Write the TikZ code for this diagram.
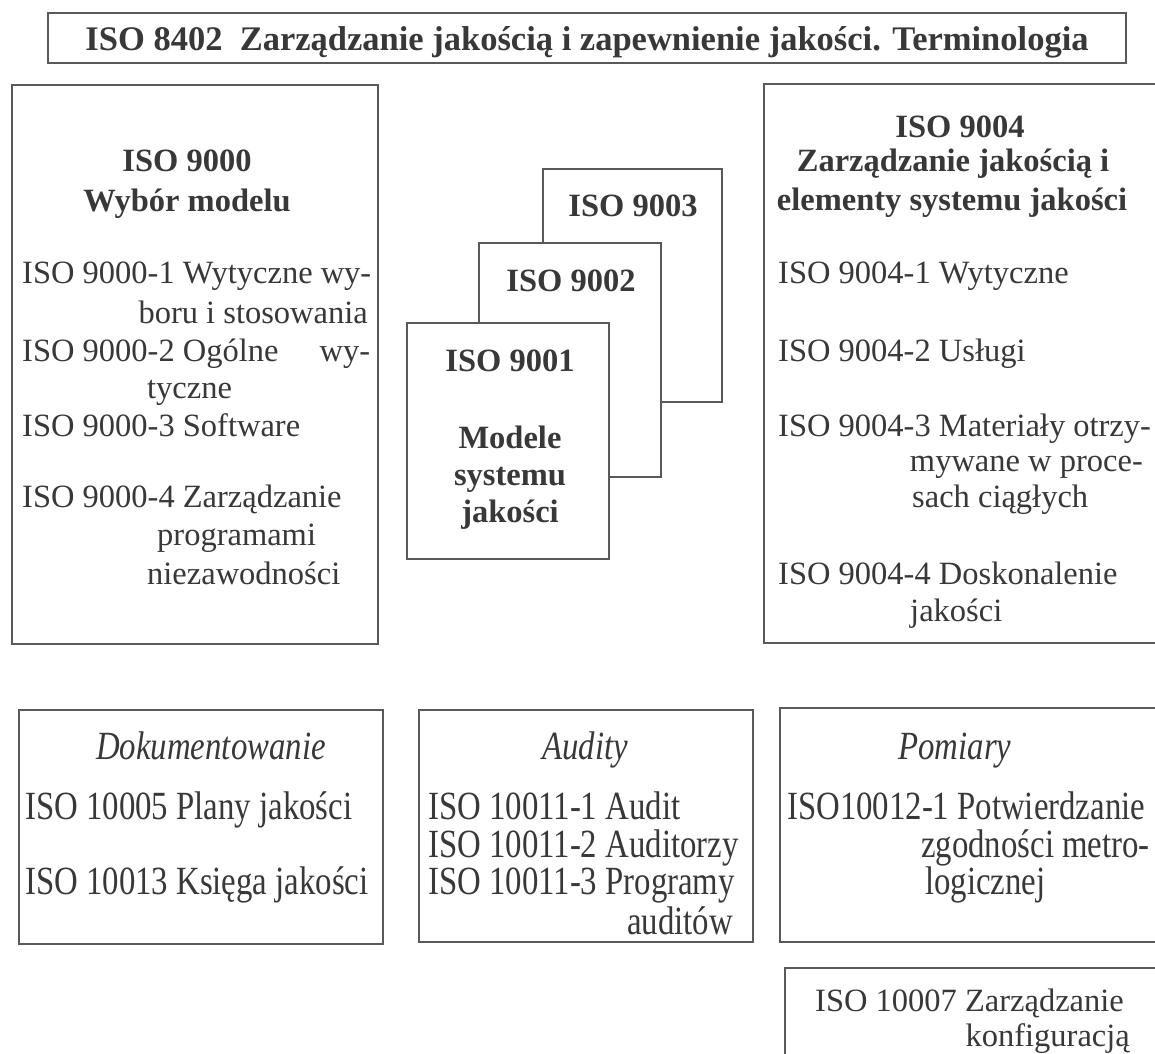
\documentclass[tikz,border=0pt]{standalone}
\usepackage{fontspec}
\setmainfont{Liberation Serif}
\newfontfamily\narrowserif[FakeStretch=0.82]{Liberation Serif}
\usetikzlibrary{fit}

\definecolor{inkgray}{gray}{0.22}
\definecolor{linegray}{gray}{0.35}

\newcommand\bodysize{\fontsize{32.5}{39}\selectfont}
\newcommand\titlesize{\fontsize{34.5}{41}\selectfont}
\newcommand\narrowsize{\fontsize{40}{48}\selectfont\narrowserif}

\tikzset{
  panel/.style={draw=linegray, line width=1.5pt, inner sep=0pt, fill=white},
  txt/.style={inner sep=0pt, text=inkgray, font=\bodysize},
  hd/.style={txt, font=\bodysize\bfseries},
  ntxt/.style={inner sep=0pt, text=inkgray, font=\narrowsize},
  nhd/.style={ntxt, font=\narrowsize\itshape},
}

\begin{document}
\begin{tikzpicture}[x=1pt, y=-1pt]
\useasboundingbox (0,0) rectangle (1155,1053);
\clip (0,0) rectangle (1155,1053);

% title
\node[panel, fit={(48,13) (1126,63)}] (title) {};
\node[txt, font=\titlesize\bfseries, anchor=base] (titletxt) at (587,50)
  {ISO 8402\ \ Zarządzanie jakością i zapewnienie jakości. Terminologia};

% ISO 9000 column
\node[panel, fit={(12,85) (378,644)}] (p9000) {};
\node[hd, anchor=base] (h9000a) at (187,171) {ISO 9000};
\node[hd, anchor=base] (h9000b) at (187,211) {Wybór modelu};
\node[txt, anchor=base west] (l9000a) at (22,283) {ISO 9000-1 Wytyczne wy-};
\node[txt, anchor=base east] (l9000b) at (368,323) {boru i stosowania};
\node[txt, anchor=base west] (l9000c) at (22,361) {\hbox to 348pt{ISO 9000-2 Ogólne\hfill wy-}};
\node[txt, anchor=base west] (l9000d) at (147,398) {tyczne};
\node[txt, anchor=base west] (l9000e) at (22,436) {ISO 9000-3 Software};
\node[txt, anchor=base west] (l9000f) at (22,507) {ISO 9000-4 Zarządzanie};
\node[txt, anchor=base west] (l9000g) at (157,545) {programami};
\node[txt, anchor=base west] (l9000h) at (147,584) {niezawodności};

% stacked models 9003 / 9002 / 9001
\node[panel, fit={(543,169) (722,402)}] (p9003) {};
\node[hd, anchor=base] (h9003) at (633,216) {ISO 9003};
\node[panel, fit={(479,243) (661,477)}] (p9002) {};
\node[hd, anchor=base] (h9002) at (571,291) {ISO 9002};
\node[panel, fit={(407,323) (609,559)}] (p9001) {};
\node[hd, anchor=base] (h9001) at (510,371) {ISO 9001};
\node[hd, anchor=base] (m1) at (510,448) {Modele};
\node[hd, anchor=base] (m2) at (510,485) {systemu};
\node[hd, anchor=base] (m3) at (510,522) {jakości};

% ISO 9004 column
\node[panel, fit={(764,84) (1170,643)}] (p9004) {};
\node[hd, anchor=base] (h9004a) at (960,137) {ISO 9004};
\node[hd, anchor=base] (h9004b) at (953,171) {Zarządzanie jakością i};
\node[hd, anchor=base] (h9004c) at (952,210) {elementy systemu jakości};
\node[txt, anchor=base west] (l9004a) at (778,283) {ISO 9004-1 Wytyczne};
\node[txt, anchor=base west] (l9004b) at (778,361) {ISO 9004-2 Usługi};
\node[txt, anchor=base west] (l9004c) at (778,436) {ISO 9004-3 Materiały otrzy-};
\node[txt, anchor=base east] (l9004d) at (1143,471) {mywane w proce-};
\node[txt, anchor=base west] (l9004e) at (912,507) {sach ciągłych};
\node[txt, anchor=base west] (l9004f) at (778,584) {ISO 9004-4 Doskonalenie};
\node[txt, anchor=base west] (l9004g) at (910,621) {jakości};

% supporting standards
\node[panel, fit={(19,710) (383,944)}] (pdok) {};
\node[nhd, anchor=base] (hdok) at (211,759) {Dokumentowanie};
\node[ntxt, anchor=base west] (ldoka) at (25,819) {ISO 10005 Plany jakości};
\node[ntxt, anchor=base west] (ldokb) at (25,894) {ISO 10013 Księga jakości};

\node[panel, fit={(419,710) (753,942)}] (paud) {};
\node[nhd, anchor=base] (haud) at (585,759) {Audity};
\node[ntxt, anchor=base west] (lauda) at (428,819) {ISO 10011-1 Audit};
\node[ntxt, anchor=base west] (laudb) at (428,857) {ISO 10011-2 Auditorzy};
\node[ntxt, anchor=base west] (laudc) at (428,894) {ISO 10011-3 Programy};
\node[ntxt, anchor=base] (laudd) at (680,934) {auditów};

\node[panel, fit={(780,708) (1170,942)}] (ppom) {};
\node[nhd, anchor=base] (hpom) at (955,759) {Pomiary};
\node[ntxt, anchor=base west] (lpoma) at (787,819) {ISO10012-1 Potwierdzanie};
\node[ntxt, anchor=base east] (lpomb) at (1150,857) {zgodności metro-};
\node[ntxt, anchor=base west] (lpomc) at (925,894) {logicznej};

\node[panel, fit={(785,968) (1170,1070)}] (pkonf) {};
\node[txt, anchor=base west] (lkonfa) at (815,1011) {ISO 10007 Zarządzanie};
\node[txt, anchor=base east] (lkonfb) at (1130,1046) {konfiguracją};
\end{tikzpicture}
\end{document}
